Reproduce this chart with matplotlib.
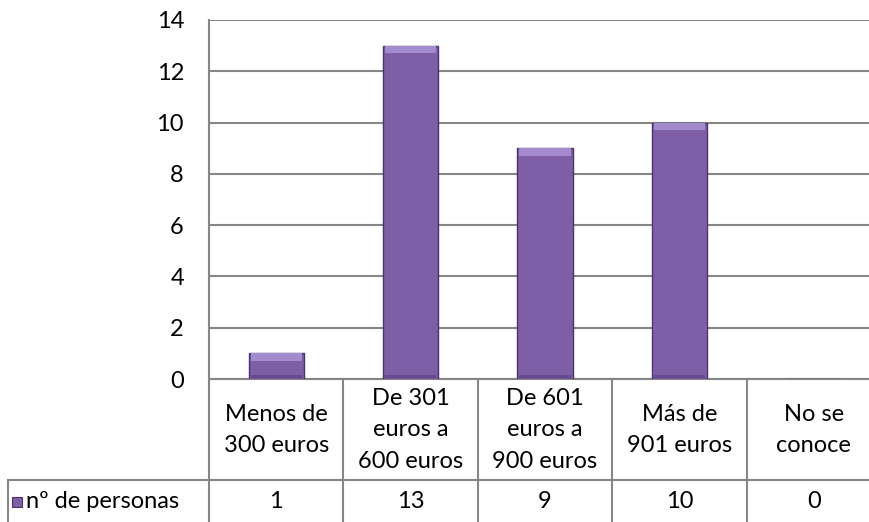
import numpy as np
import matplotlib.pyplot as plt
from matplotlib.transforms import blended_transform_factory

# data
categorias = ['Menos de\n300 euros', 'De 301\neuros a\n600 euros', 'De 601\neuros a\n900 euros',
              'Más de\n901 euros', 'No se\nconoce']
personas = [1, 13, 9, 10, 0]
serie = 'nº de personas'

plt.rcParams['font.family'] = ['Lato', 'DejaVu Sans']
FS = 17
grid_c = '#868686'

W, H = 870, 522
fig = plt.figure(figsize=(W / 100, H / 100), dpi=100)
# plot area in pixel units (last column runs past the right edge)
x0, x1, y0, y1 = 209, 881, 379, 20
ax = fig.add_axes([x0 / W, 1 - y0 / H, (x1 - x0) / W, (y0 - y1) / H])

x = np.arange(len(categorias))
bw = 0.41
ax.bar(x, personas, width=bw, color='#7d5ea7', edgecolor='#4a356b', linewidth=1.0, zorder=3)
# bevel: lighter top, darker bottom
bev = 0.3
vis = [v > 0 for v in personas]
ax.bar(x, [bev if s else 0 for s in vis], bottom=[v - bev if s else 0 for v, s in zip(personas, vis)],
       width=bw * 0.93, color='#a48bd0', linewidth=0, zorder=4)
ax.bar(x, [0.12 if s else 0 for s in vis], bottom=0.02,
       width=bw * 0.93, color='#664a8e', linewidth=0, zorder=4)

ax.set_xlim(-0.5, len(categorias) - 0.5)
ax.set_ylim(0, 14)
ax.set_yticks(range(0, 15, 2))
ax.yaxis.grid(True, color=grid_c, linewidth=1.5, zorder=0)
ax.set_axisbelow(True)
for s in ['top', 'right', 'bottom']:
    ax.spines[s].set_visible(False)
ax.spines['left'].set_color(grid_c)
ax.spines['left'].set_linewidth(1.5)
ax.tick_params(axis='y', length=0, pad=18, labelsize=FS)
ax.set_xticks([])

# data table under the axis
tr = blended_transform_factory(ax.transData, fig.transFigure)
fy = lambda py: 1 - py / H
ly = dict(color=grid_c, linewidth=1.5, clip_on=False, transform=tr)
ax.plot([-0.5, 4.5], [fy(379), fy(379)], **ly)
ax.plot([-0.5, 4.5], [fy(480), fy(480)], **ly)
for b in np.arange(-0.5, 5.0, 1.0):
    ax.plot([b, b], [fy(379), fy(522)], **ly)

ftr = fig.transFigure
fig.add_artist(plt.Line2D([8 / W, x0 / W], [fy(480), fy(480)], color=grid_c, linewidth=1.5))
fig.add_artist(plt.Line2D([8 / W, 8 / W], [fy(480), fy(522)], color=grid_c, linewidth=1.5))

for i, (c, v) in enumerate(zip(categorias, personas)):
    ax.text(i, fy(430), c, transform=tr, ha='center', va='center', fontsize=FS, linespacing=1.6)
    ax.text(i, fy(502), str(v), transform=tr, ha='center', va='center', fontsize=FS)

fig.add_artist(plt.Rectangle((12 / W, fy(507)), 10 / W, 10 / H, transform=ftr,
                             facecolor='#7d5ea7', edgecolor='#4a356b', linewidth=0.8))
fig.text(26 / W, fy(502), serie, ha='left', va='center', fontsize=FS)

fig.savefig('out.png', dpi=100)
